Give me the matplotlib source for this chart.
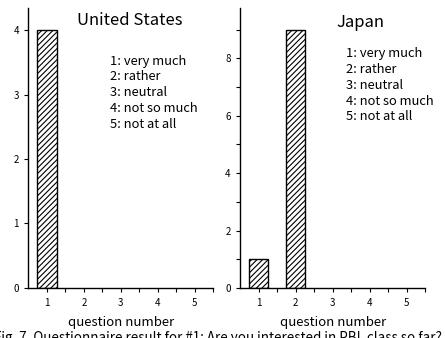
import matplotlib
matplotlib.use("Agg")
import matplotlib.pyplot as plt

plt.rcParams['font.family'] = ['Noto Sans CJK JP', 'DejaVu Sans']
plt.rcParams['hatch.linewidth'] = 0.8

questions = [1, 2, 3, 4, 5]
us_counts = [4, 0, 0, 0, 0]
jp_counts = [1, 9, 0, 0, 0]
answer_labels = ["1: very much", "2: rather", "3: neutral", "4: not so much", "5: not at all"]
panel_titles = ["United States", "Japan"]

fig = plt.figure(figsize=(4.45, 3.38), dpi=100)
ax_us = fig.add_axes([0.064, 0.148, 0.415, 0.828])
ax_jp = fig.add_axes([0.540, 0.148, 0.415, 0.828])


def draw_panel(ax, counts, title, ymax, major, minor, title_xy, legend_xy):
    nonzero = [(q, c) for q, c in zip(questions, counts) if c > 0]
    ax.bar([q for q, _ in nonzero], [c for _, c in nonzero], width=0.52,
           facecolor='white', edgecolor='black', linewidth=1.0, hatch='//////')
    ax.set_xlim(0.5, 5.5)
    ax.set_ylim(0, ymax)
    ax.set_xticks(questions)
    ax.set_xticks([1.5, 2.5, 3.5, 4.5, 5.5], minor=True)
    ax.set_yticks(major)
    ax.set_yticks(minor, minor=True)
    for s in ('top', 'right'):
        ax.spines[s].set_visible(False)
    for s in ('left', 'bottom'):
        ax.spines[s].set_linewidth(1.0)
    ax.tick_params(which='both', direction='out', length=3, width=0.8,
                   labelsize=7, pad=4)
    ax.set_xlabel("question number", fontsize=9.5, labelpad=6)
    ax.text(*title_xy, title, transform=ax.transAxes, fontsize=12,
            ha='center', va='center')
    x0, y0 = legend_xy
    for i, lab in enumerate(answer_labels):
        ax.text(x0, y0 - i * 0.057, lab, transform=ax.transAxes,
                fontsize=9.3, ha='left', va='center')


draw_panel(ax_us, us_counts, panel_titles[0], 4.34, [0, 1, 2, 3, 4], [],
           (0.55, 0.955), (0.44, 0.811))
draw_panel(ax_jp, jp_counts, panel_titles[1], 9.75, [0, 2, 4, 6, 8], [1, 3, 5, 7, 9],
           (0.65, 0.948), (0.57, 0.839))

fig.text(0.49, -0.011, "Fig. 7. Questionnaire result for #1: Are you interested in PBL class so far?",
         ha='center', va='baseline', fontsize=9.65)

fig.savefig("out.png", dpi=100)
